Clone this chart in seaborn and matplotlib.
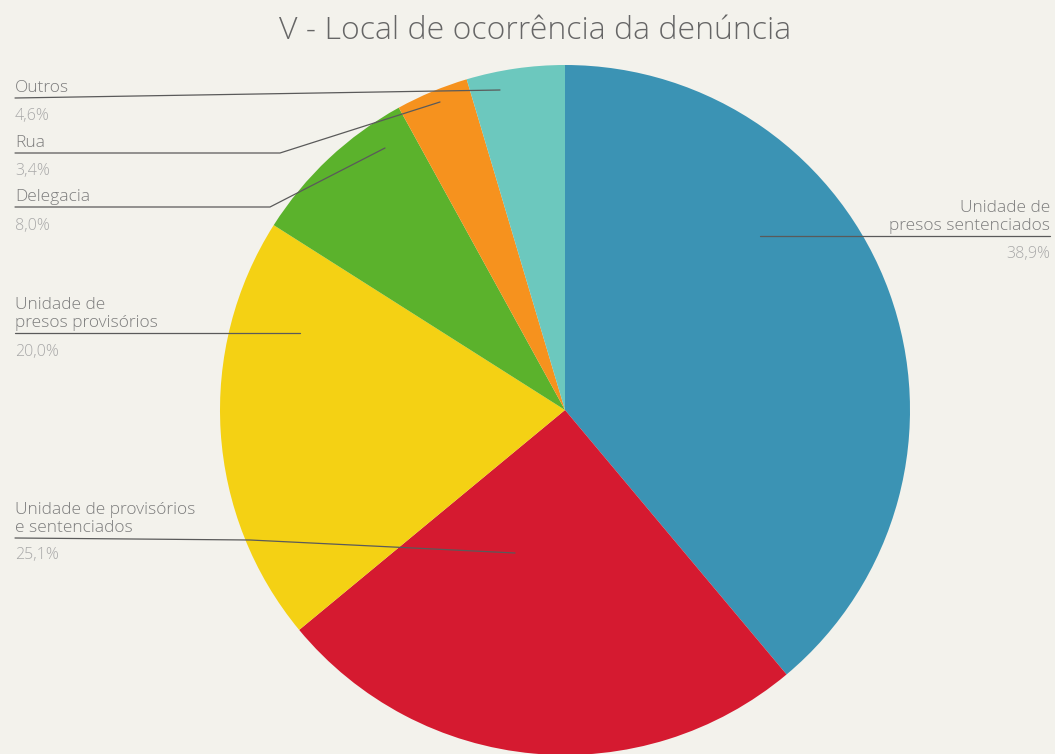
import matplotlib
matplotlib.use("Agg")
import matplotlib.pyplot as plt
import seaborn as sns

# data (clockwise from the top)
labels = ["Unidade de\npresos sentenciados", "Unidade de provisórios\ne sentenciados",
          "Unidade de\npresos provisórios", "Delegacia", "Rua", "Outros"]
values = [38.9, 25.1, 20.0, 8.0, 3.4, 4.6]
pct_text = ["38,9%", "25,1%", "20,0%", "8,0%", "3,4%", "4,6%"]
colors = ["#3b93b4", "#d51a30", "#f4d114", "#5bb22c", "#f6921e", "#6cc8be"]

sns.set_theme(style="white")
plt.rcParams["font.family"] = ["Open Sans", "DejaVu Sans"]

bg = "#f3f2ec"
W, H = 1055, 754
fig = plt.figure(figsize=(W / 100, H / 100), dpi=100, facecolor=bg)
ax = fig.add_axes([0, 0, 1, 1])
ax.set_facecolor(bg)

cx, cy, r = 565, H - 410, 345
wedges, _ = ax.pie(values, colors=colors, startangle=90, counterclock=False,
                   center=(cx, cy), radius=r, frame=True,
                   wedgeprops=dict(linewidth=0))
ax.set_xlim(0, W)
ax.set_ylim(0, H)
ax.set_aspect("equal")
ax.axis("off")

def py(y):
    return H - y

txt = "#7d7d7d"
ptxt = "#a8a8a8"
lc = "#5a5a5a"
fs = 12.5

# left labels: (index, name, line y, pct y, line path)
left = [
    (5, "Outros", 98, 116, [(15, 98), (500, 90)]),
    (4, "Rua", 153, 171, [(15, 153), (280, 153), (440, 102)]),
    (3, "Delegacia", 207, 226, [(15, 207), (270, 207), (385, 148)]),
    (2, "Unidade de\npresos provisórios", 333, 352, [(15, 333), (300, 333)]),
    (1, "Unidade de provisórios\ne sentenciados", 538, 555, [(15, 538), (250, 540), (515, 553)]),
]
for i, name, ly, pyy, path in left:
    ax.text(15, py(ly - 2), name, ha="left", va="bottom", fontsize=fs, color=txt,
            fontweight="light", linespacing=1.2)
    ax.text(15, py(pyy), pct_text[i], ha="left", va="center", fontsize=fs - 1,
            color=ptxt, fontweight="light")
    xs = [p[0] for p in path]
    ys = [py(p[1]) for p in path]
    ax.plot(xs, ys, color=lc, lw=0.9)

# right label
ax.text(1050, py(234), labels[0], ha="right", va="bottom", fontsize=fs, color=txt,
        fontweight="light", linespacing=1.2)
ax.plot([760, 1050], [py(236), py(236)], color=lc, lw=0.9)
ax.text(1050, py(254), pct_text[0], ha="right", va="center", fontsize=fs - 1,
        color=ptxt, fontweight="light")

ax.text(535, py(31), "V - Local de ocorrência da denúncia", ha="center", va="center",
        fontsize=23, color="#666666", fontweight="light")

fig.savefig("out.png", dpi=100, facecolor=bg)
